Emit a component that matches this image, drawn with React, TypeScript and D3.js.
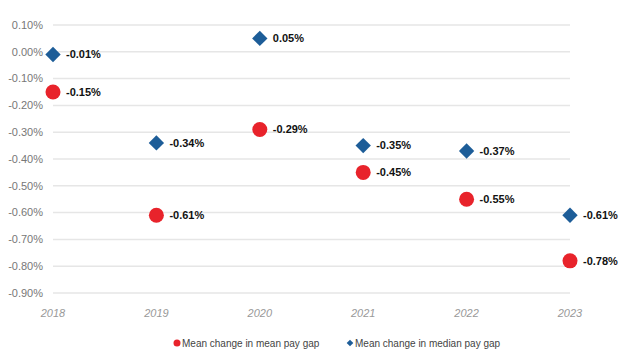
import React from "react";
import * as d3 from "d3";

const years = ["2018", "2019", "2020", "2021", "2022", "2023"];
const meanValues = [-0.15, -0.61, -0.29, -0.45, -0.55, -0.78];
const medianValues = [-0.01, -0.34, 0.05, -0.35, -0.37, -0.61];
const yTicks = [0.1, 0, -0.1, -0.2, -0.3, -0.4, -0.5, -0.6, -0.7, -0.8, -0.9];
const seriesNames = ["Mean change in mean pay gap", "Mean change in median pay gap"];

const W = 624;
const H = 360;
const RED = "#e8232b";
const BLUE = "#1d5d98";

export default function App() {
  const x = d3.scalePoint<string>().domain(years).range([53, 570]);
  const y = d3.scaleLinear().domain([0.1, -0.9]).range([25, 293]);
  const fmt = (v: number) => `${v.toFixed(2)}%`;
  const font = "Arial, 'Liberation Sans', sans-serif";
  const diamond = d3.symbol().type(d3.symbolDiamond2).size(150)();
  const smallDiamond = d3.symbol().type(d3.symbolDiamond2).size(28)();

  return (
    <svg
      width={W}
      height={H}
      style={{ position: "absolute", left: 0, top: 0, background: "#fff" }}
      fontFamily={font}
    >
      {yTicks.map((t) => (
        <g key={t}>
          <line x1={53} x2={570} y1={y(t)} y2={y(t)} stroke="#e6e6e6" strokeWidth={1.5} />
          <text x={43} y={y(t)} dy="0.35em" textAnchor="end" fontSize={11} fill="#777">
            {fmt(t === 0 ? 0 : t)}
          </text>
        </g>
      ))}
      {years.map((yr) => (
        <text key={yr} x={x(yr)} y={317} textAnchor="middle" fontSize={11} fontStyle="italic" fill="#999">
          {yr}
        </text>
      ))}
      {years.map((yr, i) => (
        <g key={"m" + yr}>
          <circle cx={x(yr)} cy={y(meanValues[i])} r={7.5} fill={RED} />
          <text x={(x(yr) as number) + 13} y={y(meanValues[i])} dy="0.35em" fontSize={11} fontWeight="bold" fill="#111">
            {fmt(meanValues[i])}
          </text>
        </g>
      ))}
      {years.map((yr, i) => (
        <g key={"d" + yr}>
          <path d={diamond as string} transform={`translate(${x(yr)},${y(medianValues[i])})`} fill={BLUE} />
          <text x={(x(yr) as number) + 13} y={y(medianValues[i])} dy="0.35em" fontSize={11} fontWeight="bold" fill="#111">
            {fmt(medianValues[i])}
          </text>
        </g>
      ))}
      <g>
        <circle cx={177} cy={343} r={3.5} fill={RED} />
        <text x={182} y={343} dy="0.35em" fontSize={10} fill="#444">{seriesNames[0]}</text>
        <path d={smallDiamond as string} transform={`translate(350,343)`} fill={BLUE} />
        <text x={355} y={343} dy="0.35em" fontSize={10} fill="#444">{seriesNames[1]}</text>
      </g>
    </svg>
  );
}
